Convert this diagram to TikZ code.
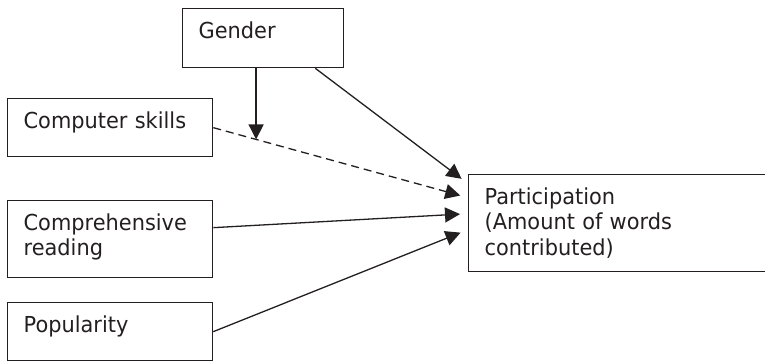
\documentclass[tikz,border=0pt]{standalone}
\usepackage{fontspec}
\setmainfont[FakeStretch=0.95]{DejaVu Sans}
\usepackage{xcolor}
\usepackage{tikz}
\usetikzlibrary{calc,arrows.meta}
\definecolor{ink}{HTML}{231F20}
\tikzset{
  box/.style={draw=ink, line width=0.65pt, anchor=north west, inner xsep=8pt, inner ysep=0pt,
    text height=15pt, align=left, text=ink, font=\fontsize{11}{12.6}\selectfont},
  arr/.style={draw=ink, line width=0.65pt, -{Triangle[length=7.5pt,width=7.5pt]}, shorten >=4pt},
  dep/.style={arr, dash pattern=on 4pt off 2.5pt},
}
\begin{document}
\begin{tikzpicture}[x=0.5pt,y=-0.5pt]
  \useasboundingbox (0,0) rectangle (765,361);
  \node[box, text width=64.5pt, text depth=14.5pt] (g) at (182,8) {Gender};
  \node[box, text width=86.5pt, text depth=14pt] (cs) at (7,98) {Computer skills};
  \node[box, text width=86.5pt, text depth=23.5pt] (cr) at (7,200) {Comprehensive\\reading};
  \node[box, text width=150pt, text depth=33.5pt] (pa) at (468,174) {Participation\\(Amount of words\\contributed)};
  \node[box, text width=86.5pt, text depth=14pt] (po) at (7,302) {Popularity};
  \coordinate (t1) at ([yshift=19.75pt]pa.west);
  \coordinate (t2) at ([yshift=12.75pt]pa.west);
  \coordinate (t3) at ([yshift=4.75pt]pa.west);
  \coordinate (t4) at ([yshift=-3.25pt]pa.west);
  \path (cs.east) -- coordinate[pos=0.168] (mod) (t2); % moderation point
  \draw[dep] (cs.east) -- (t2);
  \draw[arr, shorten >=0pt] (g.south -| mod) -- (mod);
  \draw[arr] ([xshift=-14.5pt]g.south east) -- (t1);
  \draw[arr] ([yshift=5.75pt]cr.east) -- (t3);
  \draw[arr] (po.east) -- (t4);
\end{tikzpicture}
\end{document}
